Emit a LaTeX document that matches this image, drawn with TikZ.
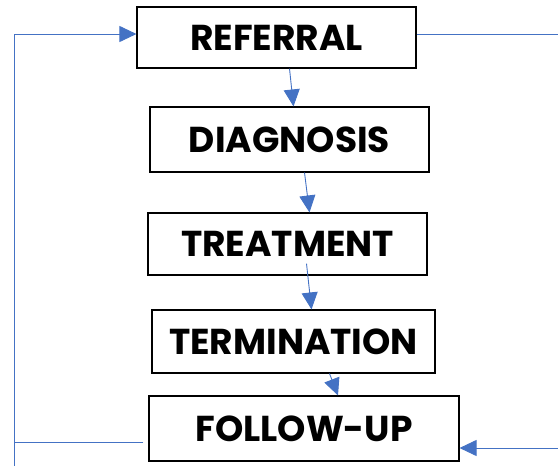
\documentclass[tikz,border=0pt]{standalone}
\usepackage{fontspec}
\setmainfont{Poppins}
\usetikzlibrary{arrows.meta,calc,positioning}
\definecolor{flowblue}{HTML}{4472C4}

\begin{document}
\begin{tikzpicture}[x=1pt, y=-1pt,
	stage/.style={draw, line width=1.1pt, inner sep=0pt, font=\fontsize{36}{40}\selectfont\bfseries},
	link/.style={flowblue, line width=0.9pt},
	linkarrow/.style={link, -{Triangle[length=17pt,width=16pt]}}]
	\useasboundingbox (0,0) rectangle (558,466);
	
	% --- the five stages ---
	\node[stage, minimum width=279pt, minimum height=61pt] (referral) at (276.5,37.5) {REFERRAL};
	\node[stage, minimum width=279pt, minimum height=65pt] (diagnosis) at (289.5,139.5) {DIAGNOSIS};
	\node[stage, minimum width=279pt, minimum height=62pt] (treatment) at (287.5,244) {TREATMENT};
	\node[stage, minimum width=283pt, minimum height=63pt] (termination) at (293.5,341.5) {TERMINATION};
	\node[stage, minimum width=310pt, minimum height=65pt] (followup) at (304,428.5) {FOLLOW-UP};
	
	% --- downward arrows ---
	\draw[linkarrow] ([xshift=13pt]referral.south) -- ([xshift=4pt]diagnosis.north);
	\draw[linkarrow] ([xshift=15pt]diagnosis.south) -- ([xshift=22pt]treatment.north);
	\draw[linkarrow] ([xshift=19pt,yshift=12pt]treatment.south) -- ([xshift=18pt]termination.north);
	\draw[linkarrow] ([xshift=36pt]termination.south) -- ([xshift=34pt]followup.north);
	
	% --- loop back on the left ---
	\coordinate (lb) at (14,466);
	\coordinate (fl) at ([xshift=-5pt,yshift=-13.5pt]followup.west);
	\draw[linkarrow] (lb) |- ([yshift=3.5pt]referral.west);
	\draw[link] (fl) -- (fl -| lb);
	
	% --- open ends on the right ---
	\coordinate (rt) at (558,34);
	\coordinate (rb) at (558,448);
	\draw[link] ([yshift=3.5pt]referral.east) -- (rt);
	\draw[linkarrow] (rb) -- ([yshift=-19.5pt]followup.east);
\end{tikzpicture}
\end{document}
